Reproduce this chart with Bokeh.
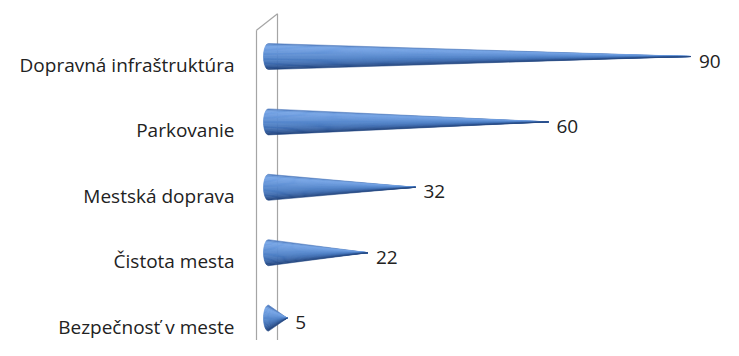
import numpy as np
from bokeh.plotting import figure
from bokeh.models import Range1d, ColumnDataSource
from bokeh.embed import file_html
from bokeh.resources import INLINE
from bokeh.core.properties import value

# ---- data ----
categories = ["Dopravná infraštruktúra", "Parkovanie", "Mestská doprava",
              "Čistota mesta", "Bezpečnosť v meste"]
values = [90, 60, 32, 22, 5]
value_labels = ["90", "60", "32", "22", "5"]

# ---- layout constants ----
W, H = 723, 340
PX = 4.75          # pixels per value unit
X0 = 263           # pixel position of value 0
ROW = 65.4         # pixels per category row
Y0 = 56            # pixel position of first row centre

p = figure(width=W, height=H,
           x_range=Range1d(-X0 / PX, (W - X0) / PX),
           y_range=Range1d((H - Y0) / ROW, -Y0 / ROW),
           output_backend="svg", toolbar_location=None,
           x_axis_location=None, y_axis_location=None,
           min_border=0)
p.grid.visible = False
p.outline_line_color = None
p.background_fill_color = "white"
p.border_fill_color = "white"

# ---- 3D back wall ----
wl, wr = -7.0 / PX, 14.0 / PX
wall_xs = [[wl, wl], [wr, wr], [wl, wr], [wr, wl]]
wall_ys = [[-0.40, 4.6], [-0.655, 4.34], [-0.40, -0.655], [4.34, 4.58]]
p.multi_line(wall_xs, wall_ys, line_color="#a5a5a5", line_width=1.2)

# ---- cones ----
stops_t = [0.0, 0.1, 0.35, 0.6, 0.8, 0.93, 1.0]
stops_c = ["#4a74b5", "#78a6e6", "#6595d9", "#5183c8", "#3f6cb0", "#2e5593", "#22437a"]
stops_rgb = np.array([[int(c[i:i + 2], 16) for i in (1, 3, 5)] for c in stops_c], float)


def grad(t):
    rgb = [np.interp(t, stops_t, stops_rgb[:, j]) for j in range(3)]
    return "#%02x%02x%02x" % tuple(int(round(v)) for v in rgb)


hh = 13.0 / ROW
rx = 5.0 / PX
xc = rx
N = 20
xs, ys, cols = [], [], []
for i, v in enumerate(values):
    for k in range(N):
        ya = -hh + 2 * hh * k / N
        yb = -hh + 2 * hh * (k + 1) / N
        arc_y = np.linspace(ya, yb, 4)
        arc_x = xc - rx * np.sqrt(np.clip(1 - (arc_y / hh) ** 2, 0, 1))
        px = list(arc_x) + [v]
        py = list(arc_y + i) + [i]
        xs.append(px)
        ys.append(py)
        cols.append(grad((k + 0.5) / N))

src = ColumnDataSource(dict(xs=xs, ys=ys, c=cols))
p.patches("xs", "ys", source=src, fill_color="c", line_color="c", line_width=0.6)

# ---- labels ----
ypos = list(range(len(categories)))
p.text(x=[-29.0 / PX] * len(categories), y=[y + 0.13 for y in ypos], text=categories,
       text_align="right", text_baseline="middle",
       text_font=value("Open Sans"), text_font_size="19px", text_color="#222222")

p.text(x=values, y=[y + 0.07 for y in ypos], text=value_labels, x_offset=8,
       text_align="left", text_baseline="middle",
       text_font=value("Open Sans"), text_font_size="19px", text_color="#222222")

open("out.html", "w").write(file_html(p, INLINE))
